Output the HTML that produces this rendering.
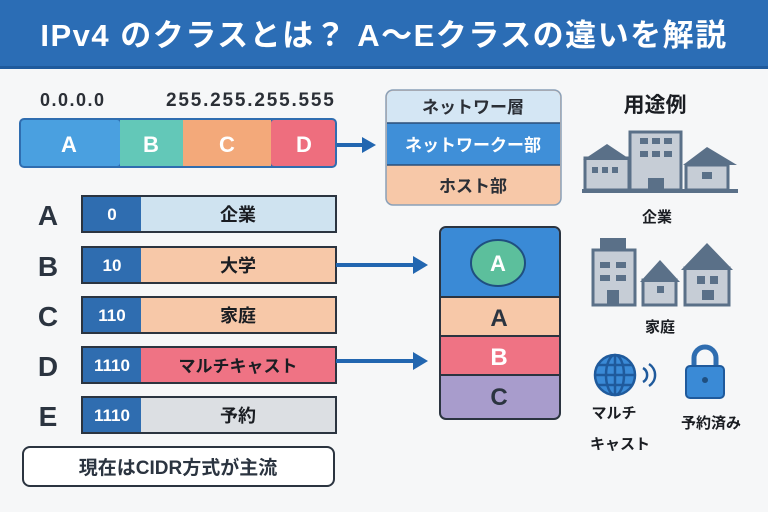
<!DOCTYPE html>
<html><head><meta charset="utf-8"><style>
html,body{margin:0;padding:0;background:#f6f7f8}
svg{display:block}
text{font-family:"Liberation Sans","Noto Sans CJK JP",sans-serif;font-weight:bold}
</style></head><body>
<svg width="768" height="512" viewBox="0 0 768 512" xmlns="http://www.w3.org/2000/svg">
<rect width="768" height="512" fill="#f6f7f8"/>
<rect width="768" height="68" fill="#2b6db5"/>
<rect y="66" width="768" height="3" fill="#1f5a9c"/>
<text x="384" y="46" font-size="31" fill="#fff" text-anchor="middle" letter-spacing="1.5">IPv4 のクラスとは？ A〜Eクラスの違いを解説</text>

<text x="40" y="106" font-size="18" fill="#2b2f36" letter-spacing="1.5">0.0.0.0</text>
<text x="166" y="106" font-size="19" fill="#2b2f36" letter-spacing="1.8">255.255.255.555</text>
<rect x="19" y="118" width="318" height="50" rx="5" fill="#2f6db0"/>
<rect x="21" y="120" width="99" height="46" rx="3" fill="#4aa0e0"/>
<rect x="120" y="120" width="63" height="46" fill="#63c8b8"/>
<rect x="183" y="120" width="88" height="46" fill="#f3a97a"/>
<rect x="271" y="120" width="64" height="46" rx="3" fill="#ee6e7e"/>
<g font-size="22" fill="#fff" text-anchor="middle">
<text x="69" y="152">A</text><text x="151" y="152">B</text><text x="227" y="152">C</text><text x="304" y="152">D</text></g>
<line x1="337" y1="145" x2="365" y2="145" stroke="#2266b0" stroke-width="4"/>
<polygon points="362,137 376,145 362,153" fill="#2266b0"/>

<rect x="386" y="90" width="175" height="115" rx="7" fill="#f7c8a8" stroke="#8aa0b8" stroke-width="1.5"/>
<path d="M387 123 V97 a6 6 0 0 1 6 -6 H554 a6 6 0 0 1 6 6 V123 Z" fill="#d4e6f4"/>
<rect x="387" y="123" width="173" height="42" fill="#3f8fd8"/>
<line x1="387" y1="123" x2="560" y2="123" stroke="#2b4f78" stroke-width="1.5"/>
<line x1="387" y1="165" x2="560" y2="165" stroke="#2b4f78" stroke-width="1.5"/>
<g font-size="17" text-anchor="middle">
<text x="473" y="113" fill="#2b2f36">ネットワー層</text>
<text x="473" y="151" fill="#fff">ネットワークー部</text>
<text x="473" y="192" fill="#2b2f36">ホスト部</text></g>

<g font-size="28" fill="#2b3440" text-anchor="middle">
<text x="48" y="225">A</text><text x="48" y="276">B</text><text x="48" y="326">C</text><text x="48" y="376">D</text><text x="48" y="426">E</text></g>
<g stroke="#2b3440" stroke-width="2">
<rect x="82" y="196" width="254" height="36" fill="#cfe3f0"/>
<rect x="82" y="247" width="254" height="36" fill="#f7c8a8"/>
<rect x="82" y="297" width="254" height="36" fill="#f7c8a8"/>
<rect x="82" y="347" width="254" height="36" fill="#ef7384"/>
<rect x="82" y="397" width="254" height="36" fill="#dcdfe3"/></g>
<g fill="#2f6db0">
<rect x="83" y="197" width="58" height="34"/><rect x="83" y="248" width="58" height="34"/><rect x="83" y="298" width="58" height="34"/><rect x="83" y="348" width="58" height="34"/><rect x="83" y="398" width="58" height="34"/></g>
<g font-size="17" fill="#fff" text-anchor="middle">
<text x="112" y="220">0</text><text x="112" y="271">10</text><text x="112" y="321">110</text><text x="112" y="371">1110</text><text x="112" y="421">1110</text></g>
<g font-size="18" fill="#1a1d22" text-anchor="middle">
<text x="238" y="221">企業</text><text x="238" y="272">大学</text><text x="238" y="322">家庭</text><text x="238" y="372" font-size="17">マルチキャスト</text><text x="238" y="422">予約</text></g>

<rect x="23" y="447" width="311" height="39" rx="7" fill="#fff" stroke="#2b3440" stroke-width="2"/>
<text x="178" y="474" font-size="19" fill="#2b3440" text-anchor="middle">現在はCIDR方式が主流</text>

<line x1="336" y1="265" x2="415" y2="265" stroke="#2266b0" stroke-width="4"/>
<polygon points="413,256 428,265 413,274" fill="#2266b0"/>
<line x1="336" y1="361" x2="415" y2="361" stroke="#2266b0" stroke-width="4"/>
<polygon points="413,352 428,361 413,370" fill="#2266b0"/>

<rect x="440" y="227" width="120" height="192" rx="6" fill="#a89ccc" stroke="#2b3440" stroke-width="2"/>
<path d="M441 297 V233 a5 5 0 0 1 5 -5 H554 a5 5 0 0 1 5 5 V297 Z" fill="#3a8ad6"/>
<rect x="441" y="297" width="118" height="39" fill="#f7c8a8"/>
<rect x="441" y="336" width="118" height="39" fill="#ef7384"/>
<g stroke="#2b3440" stroke-width="2"><line x1="441" y1="297" x2="559" y2="297"/><line x1="441" y1="336" x2="559" y2="336"/><line x1="441" y1="375" x2="559" y2="375"/></g>
<ellipse cx="498" cy="263" rx="27" ry="23" fill="#5cbf9c" stroke="#1f4f80" stroke-width="2"/>
<g font-size="22" text-anchor="middle">
<text x="498" y="271" fill="#fff">A</text>
<text x="499" y="326" fill="#2b3440" font-size="24">A</text>
<text x="499" y="365" fill="#fff" font-size="24">B</text>
<text x="499" y="405" fill="#2b3440" font-size="24">C</text></g>

<text x="655" y="112" font-size="21" fill="#1a1d22" text-anchor="middle">用途例</text>
<g fill="#c6cdd6" stroke="#5a7088" stroke-width="3">
<rect x="585" y="158" width="44" height="32"/><rect x="630" y="132" width="51" height="58"/><rect x="686" y="165" width="42" height="25"/></g>
<polygon points="583,160 607,144 631,160" fill="#5a7088"/>
<polygon points="683,165 707,147 737,165" fill="#5a7088"/>
<rect x="582" y="189" width="156" height="4" fill="#5a7088"/>
<g fill="#5a7088"><rect x="640" y="138" width="8" height="6"/><rect x="652" y="138" width="8" height="6"/><rect x="664" y="138" width="8" height="6"/><rect x="640" y="151" width="8" height="6"/><rect x="652" y="151" width="8" height="6"/><rect x="664" y="151" width="8" height="6"/><rect x="648" y="178" width="16" height="12"/>
<rect x="592" y="167" width="6" height="6"/><rect x="602" y="167" width="6" height="6"/><rect x="612" y="167" width="6" height="6"/><rect x="702" y="172" width="10" height="7"/></g>
<text x="657" y="222" font-size="15" fill="#1a1d22" text-anchor="middle">企業</text>

<g fill="#c6cdd6" stroke="#5a7088" stroke-width="3">
<rect x="593" y="250" width="42" height="55"/><rect x="643" y="280" width="33" height="25"/><rect x="685" y="268" width="44" height="37"/></g>
<rect x="600" y="238" width="26" height="12" fill="#5a7088"/>
<polygon points="640,282 660,260 680,282" fill="#5a7088"/>
<polygon points="681,270 707,243 733,270" fill="#5a7088"/>
<g fill="#5a7088"><rect x="600" y="262" width="10" height="6"/><rect x="616" y="262" width="10" height="6"/><rect x="600" y="275" width="10" height="6"/><rect x="616" y="275" width="10" height="6"/><rect x="607" y="290" width="12" height="15"/><rect x="657" y="286" width="7" height="7"/><rect x="697" y="276" width="8" height="8"/><rect x="710" y="276" width="8" height="8"/><rect x="702" y="290" width="12" height="10"/></g>
<text x="660" y="332" font-size="15" fill="#1a1d22" text-anchor="middle">家庭</text>

<g fill="none" stroke="#1f5a9c" stroke-width="2.5">
<circle cx="615" cy="375" r="20" fill="#3a8ad6"/>
<ellipse cx="615" cy="375" rx="9" ry="20"/><line x1="595" y1="375" x2="635" y2="375"/><line x1="615" y1="355" x2="615" y2="395"/>
<path d="M598 365 H632 M598 385 H632"/>
<path d="M643 368 a8 8 0 0 1 0 14"/><path d="M649 364 a13 13 0 0 1 0 22"/></g>
<path d="M694 368 v-10 a11 11 0 0 1 22 0 v10" fill="none" stroke="#2f6db0" stroke-width="5"/>
<rect x="686" y="366" width="38" height="32" rx="4" fill="#3a8ad6" stroke="#1f5a9c" stroke-width="2"/>
<circle cx="705" cy="380" r="3" fill="#1f4f80"/>
<g font-size="15" fill="#1a1d22" text-anchor="middle">
<text x="614" y="418">マルチ</text><text x="620" y="449">キャスト</text><text x="711" y="428">予約済み</text></g>
</svg>
</body></html>
